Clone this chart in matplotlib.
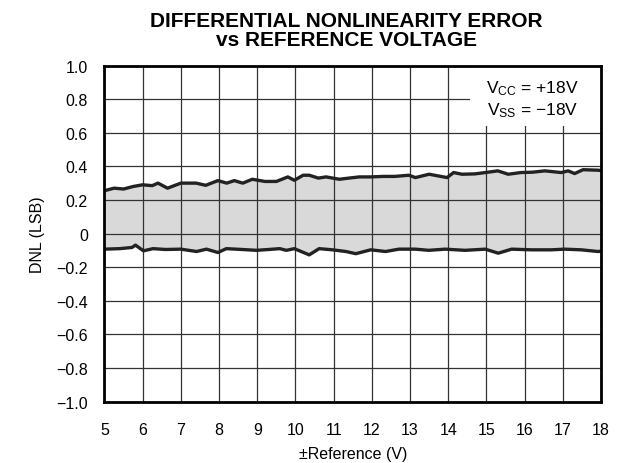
import numpy as np
import matplotlib
matplotlib.use("Agg")
import matplotlib.pyplot as plt
from matplotlib.patches import Rectangle

plt.rcParams['font.family'] = ['Liberation Sans', 'DejaVu Sans']
plt.rcParams['mathtext.fontset'] = 'custom'
plt.rcParams['mathtext.rm'] = 'Liberation Sans'
plt.rcParams['mathtext.it'] = 'Liberation Sans'

# upper DNL bound
x_upper = [5.0, 5.25, 5.5, 5.75, 6.0, 6.25, 6.4, 6.65, 7.0, 7.4, 7.65, 7.97, 8.2, 8.4,
           8.62, 8.87, 9.2, 9.5, 9.8, 9.97, 10.2, 10.36, 10.6, 10.8, 11.15, 11.4, 11.67,
           11.97, 12.3, 12.6, 12.97, 13.14, 13.5, 13.97, 14.14, 14.36, 14.7, 14.97, 15.3,
           15.57, 15.9, 16.2, 16.53, 16.96, 17.14, 17.31, 17.53, 17.92, 18.0]
dnl_upper = [0.255, 0.27, 0.265, 0.28, 0.29, 0.285, 0.30, 0.27, 0.30, 0.30, 0.287, 0.315,
             0.30, 0.315, 0.30, 0.323, 0.31, 0.31, 0.337, 0.317, 0.347, 0.347, 0.33, 0.337,
             0.323, 0.33, 0.337, 0.337, 0.34, 0.34, 0.347, 0.333, 0.353, 0.333, 0.363,
             0.353, 0.355, 0.363, 0.373, 0.353, 0.363, 0.365, 0.373, 0.363, 0.373, 0.357,
             0.38, 0.377, 0.375]

# lower DNL bound
x_lower = [5.0, 5.4, 5.72, 5.81, 6.02, 6.27, 6.6, 7.0, 7.41, 7.67, 7.97, 8.19, 8.6, 8.98,
           9.3, 9.59, 9.76, 9.97, 10.36, 10.62, 10.97, 11.32, 11.58, 11.97, 12.36, 12.71,
           13.14, 13.49, 13.92, 14.44, 14.97, 15.31, 15.66, 16.18, 16.7, 17.05, 17.48,
           17.92, 18.0]
dnl_lower = [-0.093, -0.09, -0.083, -0.069, -0.103, -0.09, -0.095, -0.093, -0.107, -0.093,
             -0.113, -0.09, -0.095, -0.10, -0.095, -0.09, -0.10, -0.09, -0.127, -0.09,
             -0.097, -0.107, -0.12, -0.097, -0.107, -0.093, -0.093, -0.10, -0.093, -0.10,
             -0.093, -0.117, -0.093, -0.097, -0.097, -0.093, -0.097, -0.107, -0.105]

x_ticks = list(range(5, 19))
y_ticks = [1.0, 0.8, 0.6, 0.4, 0.2, 0, -0.2, -0.4, -0.6, -0.8, -1.0]
y_ticklabels = ["1.0", "0.8", "0.6", "0.4", "0.2", "0", "\u22120.2", "\u22120.4",
                "\u22120.6", "\u22120.8", "\u22121.0"]

fig = plt.figure(figsize=(6.28, 4.64), dpi=100)
ax = fig.add_axes([0.1664, 0.1325, 0.7906, 0.7241])

poly_x = np.concatenate([x_upper, x_lower[::-1]])
poly_y = np.concatenate([dnl_upper, dnl_lower[::-1]])
ax.fill(poly_x, poly_y, color="#d9d9d9", lw=0, zorder=1)
ax.plot(x_upper, dnl_upper, color="#222222", lw=2.4, zorder=3)
ax.plot(x_lower, dnl_lower, color="#222222", lw=2.4, zorder=3)

ax.set_xlim(5, 18)
ax.set_ylim(-1.0, 1.0)
ax.set_xticks(x_ticks)
ax.set_yticks(y_ticks)
ax.set_yticklabels(y_ticklabels)
ax.grid(True, color="#333333", lw=0.9, zorder=2)
ax.set_axisbelow(False)
ax.tick_params(length=0, labelsize=11.5)
ax.tick_params(axis="x", pad=15)
ax.tick_params(axis="y", pad=12)
for s in ax.spines.values():
    s.set_linewidth(2)
    s.set_zorder(5)

# legend box covering grid
ax.add_patch(Rectangle((0.737, 0.82), 0.263, 0.18, transform=ax.transAxes,
                       facecolor="white", edgecolor="none", zorder=4))
ax.text(0.955, 0.935, "V$_{\\mathrm{CC}}$ = +18V", transform=ax.transAxes,
        ha="right", va="center", fontsize=12.5, zorder=6)
ax.text(0.955, 0.868, "V$_{\\mathrm{SS}}$ = \u221218V", transform=ax.transAxes,
        ha="right", va="center", fontsize=12.5, zorder=6)

ax.set_xlabel("\u00b1Reference (V)", fontsize=11.5, labelpad=6)
ax.set_ylabel("DNL (LSB)", fontsize=11.5, labelpad=8)

fig.text(346 / 628, 1 - 27 / 464, "DIFFERENTIAL NONLINEARITY ERROR",
         ha="center", va="baseline", fontsize=15, fontweight="bold")
fig.text(346 / 628, 1 - 46 / 464, "vs REFERENCE VOLTAGE",
         ha="center", va="baseline", fontsize=15, fontweight="bold")

fig.savefig("out.png", dpi=100)
